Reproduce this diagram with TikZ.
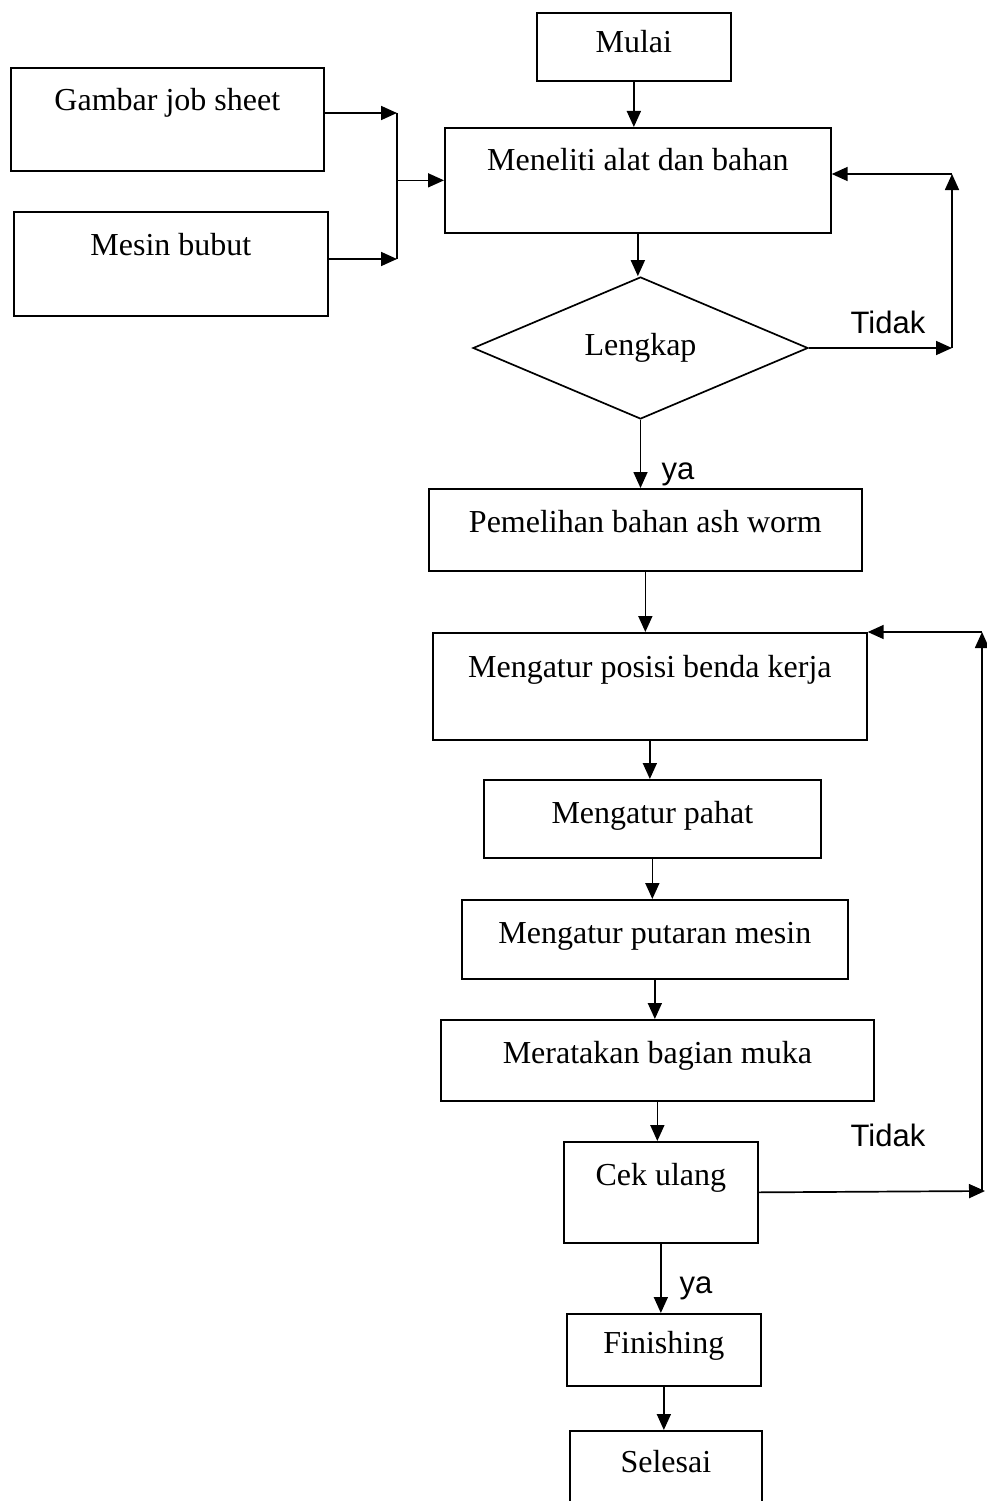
\documentclass[tikz,border=0pt]{standalone}
\usepackage{fontspec}
\setmainfont{Liberation Serif}
\newfontfamily\labsans{Liberation Sans}
\usetikzlibrary{arrows.meta,shapes.geometric}
\begin{document}
\begin{tikzpicture}[x=1pt,y=-1pt,
  box/.style={draw,line width=1.7pt,inner sep=0pt,anchor=north west,font=\fontsize{32}{36}\selectfont},
  dec/.style={draw,diamond,line width=1.7pt,inner sep=0pt,minimum width=335pt,minimum height=142pt,font=\fontsize{32}{36}\selectfont},
  conn/.style={line width=1.7pt},
  arr/.style={line width=1.7pt,-{Triangle[length=16pt,width=14pt]}},
  lab/.style={font=\labsans\fontsize{31}{36}\selectfont,inner sep=0pt}]
\useasboundingbox (0,0) rectangle (986,1501);
\node[box,minimum width=194pt,text height=40pt,text depth=28pt] (mulai) at (536,12) {Mulai};
\node[box,minimum width=313pt,text height=43pt,text depth=60pt] (gambar) at (10,67) {Gambar job sheet};
\node[box,minimum width=314pt,text height=44pt,text depth=60pt] (mesin) at (13,211) {Mesin bubut};
\node[box,minimum width=386pt,text height=43pt,text depth=62pt] (meneliti) at (444,127) {Meneliti alat dan bahan};
\node[dec] (lengkap) at (640.5,348) {Lengkap};
\node[box,minimum width=433pt,text height=44pt,text depth=38pt] (pemelihan) at (428,488) {Pemelihan bahan ash worm};
\node[box,minimum width=434pt,text height=45pt,text depth=62pt] (posisi) at (432,632) {Mengatur posisi benda kerja};
\node[box,minimum width=337pt,text height=44pt,text depth=34pt] (pahat) at (483,779) {Mengatur pahat};
\node[box,minimum width=386pt,text height=44pt,text depth=35pt] (putaran) at (461,899) {Mengatur putaran mesin};
\node[box,minimum width=433pt,text height=44pt,text depth=37pt] (meratakan) at (440,1019) {Meratakan bagian muka};
\node[box,minimum width=194pt,text height=44pt,text depth=57pt] (cek) at (563,1141) {Cek ulang};
\node[box,minimum width=194pt,text height=40pt,text depth=32pt] (finishing) at (566,1313) {Finishing};
\node[box,minimum width=192pt,text height=42pt,text depth=34pt] (selesai) at (569,1430) {Selesai};
% junction for inputs
\coordinate (jA) at (397,113);
\coordinate (jB) at (397,259);
\draw[arr] (gambar.east |- jA) -- (jA);
\draw[arr] (mesin.east |- jB) -- (jB);
\draw[conn] (jA) -- (jB);
\draw[arr] (jA |- meneliti.west) -- (meneliti.west);
% main flow
\draw[arr] (mulai.south) -- (mulai.south |- meneliti.north);
\draw[arr] (meneliti.south) -- (meneliti.south |- lengkap.north);
\draw[arr] (lengkap.south) -- (lengkap.south |- pemelihan.north);
\draw[arr] (pemelihan.south) -- (pemelihan.south |- posisi.north);
\draw[arr] (posisi.south) -- (posisi.south |- pahat.north);
\draw[arr] (pahat.south) -- (pahat.south |- putaran.north);
\draw[arr] (putaran.south) -- (putaran.south |- meratakan.north);
\draw[arr] (meratakan.south) -- (meratakan.south |- cek.north);
\draw[arr] (cek.south) -- (cek.south |- finishing.north);
\draw[arr] (finishing.south) -- (finishing.south |- selesai.north);
% loop 1
\coordinate (c1) at (952,348);
\coordinate (c2) at (952,174);
\draw[arr] (lengkap.east) -- (c1);
\draw[arr] (c1) -- (c2);
\draw[arr] (c2) -- (meneliti.east |- c2);
% loop 2
\coordinate (c3) at (985,1191);
\coordinate (c4) at (982,632);
\coordinate (c5) at (982,1191);
\draw[arr] (cek.east) -- (c3);
\draw[arr] (c5) -- (c4);
\draw[arr] (c4) -- (posisi.north east);
% labels
\node[lab] (t1) at (888,322) {Tidak};
\node[lab] (t2) at (888,1135) {Tidak};
\node[lab] (y1) at (678,474) {ya};
\node[lab] (y2) at (696,1288) {ya};
\end{tikzpicture}
\end{document}
